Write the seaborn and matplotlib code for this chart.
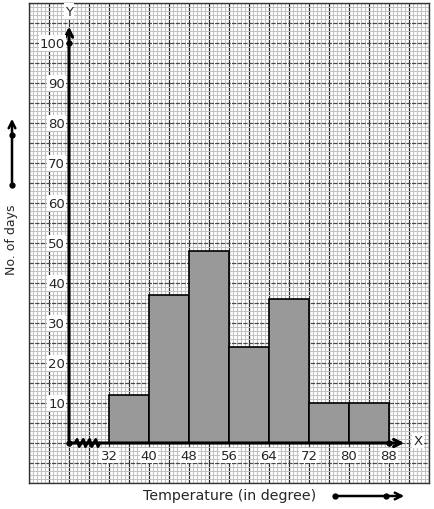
import numpy as np
import matplotlib
matplotlib.use('Agg')
import matplotlib.pyplot as plt
import seaborn as sns

# class intervals (temperature) and frequencies (no. of days)
bin_edges = [32, 40, 48, 56, 64, 72, 80, 88]
days = [12, 37, 48, 24, 36, 10, 10]
y_ticks = [10, 20, 30, 40, 50, 60, 70, 80, 90, 100]

ORIGIN = 24   # where the (broken) x axis starts on the paper

sns.set_style('white')
plt.rcParams['font.family'] = ['DejaVu Sans']

fig = plt.figure(figsize=(4.34, 5.10), dpi=100)
ax = fig.add_axes([29 / 434, 26 / 510, 400 / 434, 480 / 510])

# graph paper
ax.set_xlim(16, 96)
ax.set_ylim(-10, 110)
ax.set_xticks(np.arange(16, 96.1, 4))
ax.set_yticks(np.arange(-10, 110.1, 5))
ax.set_xticks(np.arange(16, 96.1, 0.8), minor=True)
ax.set_yticks(np.arange(-10, 110.1, 1), minor=True)
ax.tick_params(which='both', length=0, labelbottom=False, labelleft=False)
ax.grid(which='minor', color='#c2c2c2', lw=0.75)
ax.grid(which='major', axis='x', color='#2a2a2a', lw=0.9)
ax.grid(which='major', axis='y', color='#4a4a4a', lw=0.9, ls=(0, (3.5, 1)))
ax.set_axisbelow(True)
for s in ax.spines.values():
    s.set_color('#333333')
    s.set_linewidth(1)

# histogram
centers = [(a + b) / 2 for a, b in zip(bin_edges[:-1], bin_edges[1:])]
sns.histplot(x=centers, weights=days, bins=bin_edges, ax=ax, color='#999999',
             alpha=1, edgecolor='black', linewidth=1.2, zorder=3)
ax.set_xlabel('')
ax.set_ylabel('')

# axes with arrows
ax.annotate('', xy=(ORIGIN, 104.8), xytext=(ORIGIN, 0),
            arrowprops=dict(arrowstyle='->', lw=2.2, color='black', mutation_scale=13), zorder=5)
ax.annotate('', xy=(91.6, 0), xytext=(ORIGIN, 0),
            arrowprops=dict(arrowstyle='->', lw=2.2, color='black', mutation_scale=13), zorder=5)
ax.plot([ORIGIN, ORIGIN, bin_edges[-1]], [0, 100, 0], 'o', color='black', ms=3.5, zorder=6)

# zigzag break on the x axis
zx = np.linspace(25.2, 30.2, 13)
zy = np.array([0, 1, -1] * 4 + [0])[:len(zx)] * 0.9
ax.plot(zx, zy, color='black', lw=2, zorder=6)

bbox = dict(facecolor='white', edgecolor='none', pad=0.8)
for v in y_ticks:
    ax.text(ORIGIN - 0.8, v, str(v), ha='right', va='center', fontsize=9.5, bbox=bbox, zorder=7)
for v in bin_edges:
    ax.text(v, -3.2, str(v), ha='center', va='center', fontsize=9.5, bbox=bbox, zorder=7)
ax.text(ORIGIN, 108, 'Y', ha='center', va='center', fontsize=9.5, bbox=bbox, zorder=7)
ax.text(93.8, 0.6, 'X', ha='center', va='center', fontsize=9.5, bbox=bbox, zorder=7)

# labels outside the paper
fig.text(12 / 434, 1 - 240 / 510, 'No. of days', rotation=90, ha='center', va='center', fontsize=9)
fig.text(230 / 434, 1 - 496 / 510, 'Temperature (in degree)', ha='center', va='center', fontsize=10.2)

fig.add_artist(matplotlib.patches.FancyArrowPatch(
    (12 / 434, 1 - 186 / 510), (12 / 434, 1 - 117 / 510), transform=fig.transFigure,
    arrowstyle='->', lw=1.8, color='black', mutation_scale=12))
fig.add_artist(matplotlib.patches.FancyArrowPatch(
    (335 / 434, 1 - 497 / 510), (407 / 434, 1 - 497 / 510), transform=fig.transFigure,
    arrowstyle='->', lw=1.8, color='black', mutation_scale=12))
for px, py in [(12, 136), (12, 186), (335, 497), (386, 497)]:
    fig.add_artist(matplotlib.lines.Line2D([px / 434], [1 - py / 510], transform=fig.transFigure,
                                           marker='o', ms=3.5, color='black'))

fig.savefig('out.png', dpi=100)
